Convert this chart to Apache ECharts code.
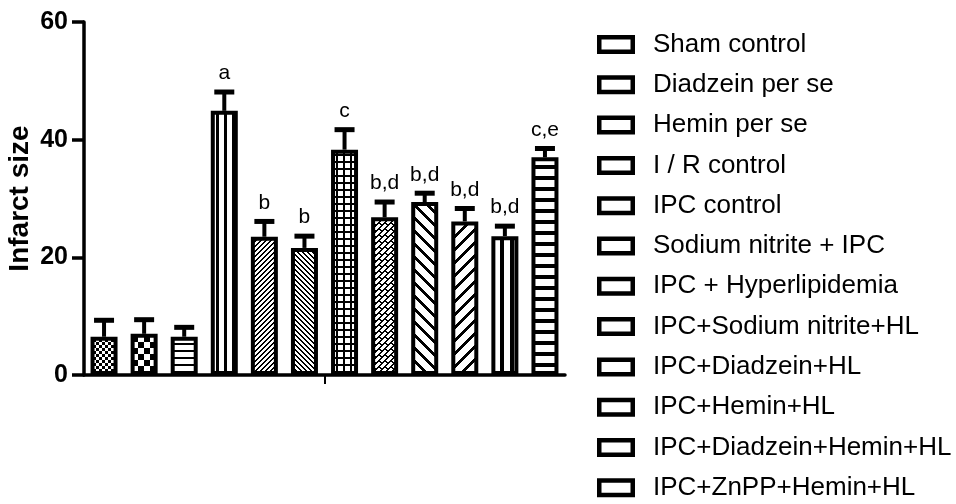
<!DOCTYPE html>
<html><head><meta charset="utf-8">
<script src="https://cdn.jsdelivr.net/npm/echarts@6/dist/echarts.min.js"></script>
<style>html,body{margin:0;padding:0;background:#fff}#c{width:956px;height:504px}</style>
</head><body><div id="c"></div>
<script>
const groups = ['Sham control','Diadzein per se','Hemin per se','I / R control','IPC control','Sodium nitrite + IPC','IPC + Hyperlipidemia','IPC+Sodium nitrite+HL','IPC+Diadzein+HL','IPC+Hemin+HL','IPC+Diadzein+Hemin+HL','IPC+ZnPP+Hemin+HL'];
const means = [6.5, 7.0, 6.5, 44.9, 23.5, 21.6, 38.3, 26.8, 29.4, 26.1, 23.6, 37.0];
const sems = [2.8, 2.4, 1.6, 3.2, 2.6, 2.0, 3.4, 2.6, 1.5, 2.2, 1.7, 1.5];
const sigLabels = ['', '', '', 'a', 'b', 'b', 'c', 'b,d', 'b,d', 'b,d', 'b,d', 'c,e'];
const yTicks = [0, 20, 40, 60];

const FONT = 'Liberation Sans, Arial, sans-serif';
function makePattern(w, h, fn) {
  const c = document.createElement('canvas'); c.width = w; c.height = h;
  const ctx = c.getContext('2d'); const img = ctx.createImageData(w, h);
  for (let y = 0; y < h; y++) for (let x = 0; x < w; x++) {
    const v = fn(x, y) ? 0 : 255; const k = (y * w + x) * 4;
    img.data[k] = v; img.data[k+1] = v; img.data[k+2] = v; img.data[k+3] = 255;
  }
  ctx.putImageData(img, 0, 0);
  return { image: c, repeat: 'repeat' };
}
const mod = (a, n) => ((a % n) + n) % n;
const patterns = [
  makePattern(6, 6, (x, y) => (Math.floor(x/3) + Math.floor(y/3)) % 2 === 0),
  makePattern(12, 12, (x, y) => (Math.floor(x/6) + Math.floor(y/6)) % 2 === 0),
  makePattern(7, 7, (x, y) => y % 7 < 2),
  makePattern(8, 8, (x, y) => x % 8 < 3),
  makePattern(5, 5, (x, y) => mod(x + y, 5) < 2),
  makePattern(5, 5, (x, y) => mod(x - y, 5) < 2),
  makePattern(7, 7, (x, y) => x % 7 < 2 || y % 7 < 2),
  makePattern(12, 12, (x, y) => { const u = x + y, v = x - y; const row = Math.floor(u / 6); return mod(u, 6) < 2 || mod(v + (row % 2) * 6, 12) < 2; }),
  makePattern(13, 13, (x, y) => mod(x - y, 13) < 4),
  makePattern(13, 13, (x, y) => mod(x + y, 13) < 4),
  makePattern(10, 10, (x, y) => x % 10 < 4),
  makePattern(11, 11, (x, y) => y % 11 < 4)
];

const barSeries = groups.map((g, i) => ({
  name: g, type: 'bar', xAxisIndex: 0, barWidth: 27, barGap: '-100%',
  data: groups.map((_, j) => j === i ? means[i] : '-'),
  itemStyle: { color: patterns[i], borderColor: '#000', borderWidth: 4 },
  emphasis: { disabled: true }, z: 2
}));

const errSeries = {
  type: 'custom', xAxisIndex: 0, z: 5, silent: true,
  data: means.map((m, i) => [i, m, sems[i]]),
  renderItem(params, api) {
    const i = api.value(0), m = api.value(1), e = api.value(2);
    const b = api.coord([i, m]); const t = api.coord([i, m + e]);
    const lab = sigLabels[params.dataIndex];
    return { type: 'group', children: [
      { type: 'line', shape: { x1: b[0], y1: b[1], x2: b[0], y2: t[1] }, style: { stroke: '#000', lineWidth: 4 } },
      { type: 'line', shape: { x1: b[0] - 10, y1: t[1], x2: b[0] + 10, y2: t[1] }, style: { stroke: '#000', lineWidth: 5 } },
      { type: 'text', x: b[0], y: t[1] - 8, style: { text: lab, align: 'center', verticalAlign: 'bottom', font: '21px ' + FONT, fill: '#000' } }
    ]};
  }
};

const chart = echarts.init(document.getElementById('c'), null, { renderer: 'canvas' });
chart.setOption({
  animation: false,
  backgroundColor: '#fff',
  grid: { left: 84, right: 391, top: 22, bottom: 129, containLabel: false, outerBoundsMode: 'none' },
  legend: {
    orient: 'vertical', left: 597, top: 31.5, padding: 0,
    itemWidth: 38, itemHeight: 19, itemGap: 14.3,
    icon: 'path://M0,0H38V19H0Z M4.5,4.5V14.5H33.5V4.5Z',
    itemStyle: { color: '#000', borderWidth: 0 },
    textStyle: { fontFamily: FONT, fontSize: 26, lineHeight: 26, color: '#000', padding: [0, 0, 0, 13] },
    selectedMode: false,
    data: groups
  },
  xAxis: [
    { type: 'category', data: groups, position: 'bottom',
      axisLine: { lineStyle: { color: '#000', width: 3.5 } }, axisTick: { show: false }, axisLabel: { show: false } },
    { type: 'category', data: [''], position: 'bottom',
      axisLine: { show: false }, axisTick: { show: true, alignWithLabel: true, length: 9, lineStyle: { color: '#000', width: 2 } }, axisLabel: { show: false } }
  ],
  yAxis: {
    type: 'value', min: yTicks[0], max: yTicks[yTicks.length - 1], interval: 20,
    name: 'Infarct size', nameLocation: 'middle', nameRotate: 90, nameGap: 50, nameMoveOverlap: false,
    nameTextStyle: { fontFamily: FONT, fontSize: 28, fontWeight: 'bold', color: '#000' },
    axisLine: { show: true, lineStyle: { color: '#000', width: 3.5 } },
    axisTick: { show: true, length: 12, lineStyle: { color: '#000', width: 3.5 } },
    axisLabel: { fontFamily: FONT, fontSize: 25, fontWeight: 'bold', color: '#000', margin: 16 },
    splitLine: { show: false }
  },
  series: [...barSeries, errSeries]
});
</script></body></html>
